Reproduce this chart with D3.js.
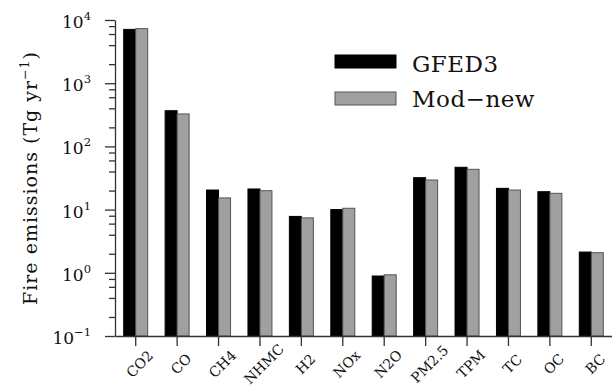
<!DOCTYPE html>
<html>
<head>
<meta charset="utf-8">
<script src="https://cdn.jsdelivr.net/npm/d3@7"></script>
<style>
  body { margin: 0; background: #fff; }
  svg { display: block; font-family: "DejaVu Serif", serif; }
</style>
</head>
<body>
<svg width="612" height="385"></svg>
<script>
// species on the x axis
const species = ["CO2", "CO", "CH4", "NHMC", "H2", "NOx", "N2O", "PM2.5", "TPM", "TC", "OC", "BC"];
// Tg / yr
const gfed3  = [7100, 367, 20.4, 21.2, 7.8, 10.0, 0.89, 32, 46.7, 21.7, 19.2, 2.13];
const modNew = [7300, 326, 15.3, 19.9, 7.4, 10.5, 0.93, 29.4, 43.4, 20.4, 18.1, 2.08];
const seriesNames = ["GFED3", "Mod\u2212new"];
const majorTicks = [0.1, 1, 10, 100, 1000, 10000];
const tickExp = ["\u22121", "0", "1", "2", "3", "4"];

const svg = d3.select("svg");
const plot = {left: 115, right: 612, top: 20, bottom: 336};

const x = d3.scaleBand().domain(species).range([plot.left, plot.right]).paddingInner(0).paddingOuter(0);
const xs = d3.scaleBand().domain(seriesNames).range([-12, 12]);
const y = d3.scaleLog().domain([0.1, 10000]).range([plot.bottom, plot.top]);

const series = [
  {name: seriesNames[0], values: gfed3, fill: "#000", stroke: "#000"},
  {name: seriesNames[1], values: modNew, fill: "#a0a0a0", stroke: "#555"}
];

// bars
series.forEach(s => {
  svg.append("g").selectAll("rect")
    .data(species)
    .join("rect")
    .attr("x", (d) => x(d) + x.bandwidth() / 2 + xs(s.name))
    .attr("width", xs.bandwidth())
    .attr("y", (d, i) => y(s.values[i]))
    .attr("height", (d, i) => plot.bottom - y(s.values[i]))
    .attr("fill", s.fill)
    .attr("stroke", s.stroke)
    .attr("stroke-width", 1);
});

// minor y ticks at 2,4,6,8 per decade
const minor = [];
majorTicks.slice(0, -1).forEach(m => [2, 4, 6, 8].forEach(k => minor.push(m * k)));

const yMinor = svg.append("g")
  .attr("transform", `translate(${plot.left},0)`)
  .call(d3.axisLeft(y).tickValues(minor).tickSize(6).tickFormat(""));
yMinor.select(".domain").remove();

const yAxis = svg.append("g")
  .attr("transform", `translate(${plot.left},0)`)
  .call(d3.axisLeft(y).tickValues(majorTicks).tickSize(10).tickSizeOuter(0).tickFormat(""));

svg.selectAll(".tick line").attr("stroke", "#333").attr("stroke-width", 1.3);
yAxis.select(".domain").attr("stroke", "#333").attr("stroke-width", 1.3);

// major labels as 10^n
const lab = svg.append("g");
majorTicks.forEach((t, i) => {
  const txt = lab.append("text")
    .attr("x", 91)
    .attr("y", y(t) + 8)
    .attr("text-anchor", "end")
    .attr("font-size", 17)
    .attr("fill", "#111");
  txt.append("tspan").text("10");
  txt.append("tspan").attr("dy", -8).attr("font-size", 11.5).text(tickExp[i]);
});

// x axis
const xAxis = svg.append("g")
  .attr("transform", `translate(0,${plot.bottom})`)
  .call(d3.axisBottom(x).tickSize(10).tickSizeOuter(0).tickFormat(""));
xAxis.select(".domain").attr("stroke", "#333").attr("stroke-width", 1.3);
xAxis.selectAll(".tick line").attr("stroke", "#333").attr("stroke-width", 1.3);

// category labels, turned 45 degrees and centred under each tick
svg.append("g").selectAll("text")
  .data(species)
  .join("text")
  .attr("transform", d => `translate(${x(d) + x.bandwidth() / 2 + 4},364) rotate(-45)`)
  .attr("text-anchor", "middle")
  .attr("dy", "0.35em")
  .attr("font-size", 14)
  .attr("fill", "#111")
  .text(d => d);

// y label
const yl = svg.append("text")
  .attr("transform", "translate(37,178) rotate(-90)")
  .attr("text-anchor", "middle")
  .attr("font-size", 19)
  .attr("letter-spacing", 1)
  .attr("fill", "#111");
yl.append("tspan").text("Fire emissions (Tg yr");
yl.append("tspan").attr("dy", -8).attr("font-size", 12.5).text("\u22121");
yl.append("tspan").attr("dy", 8).text(")");

// legend
const legend = svg.append("g");
series.forEach((s, i) => {
  legend.append("rect")
    .attr("x", 335).attr("y", 55 + i * 37)
    .attr("width", 61).attr("height", 13)
    .attr("fill", s.fill).attr("stroke", s.stroke);
  legend.append("text")
    .attr("x", 412).attr("y", 72 + i * 35)
    .attr("font-size", 23)
    .attr("letter-spacing", 0.5)
    .attr("fill", "#111")
    .text(s.name);
});
</script>
</body>
</html>
